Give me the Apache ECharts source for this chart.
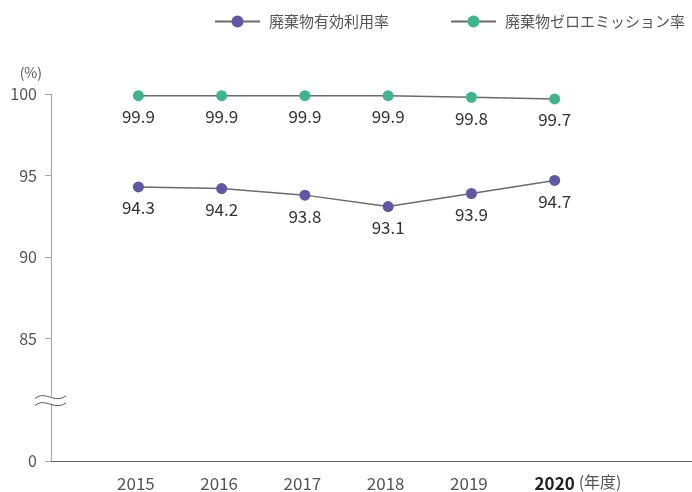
<!DOCTYPE html>
<html>
<head>
<meta charset="utf-8">
<script src="https://cdn.jsdelivr.net/npm/echarts@6/dist/echarts.min.js"></script>
<style>
  html, body { margin: 0; padding: 0; background: #fff; }
  #chart { width: 692px; height: 492px; }
</style>
</head>
<body>
<div id="chart"></div>
<script>
// data
const years = [2015, 2016, 2017, 2018, 2019, 2020];
const recycleRate = [94.3, 94.2, 93.8, 93.1, 93.9, 94.7];
const zeroEmission = [99.9, 99.9, 99.9, 99.9, 99.8, 99.7];
const yTicks = [77.5, 85, 90, 95, 100]; // 77.5 is drawn as "0" (broken axis)
const seriesNames = ['廃棄物有効利用率', '廃棄物ゼロエミッション率'];

const FONT = '"Noto Sans CJK JP", "Noto Sans", sans-serif';

const chart = echarts.init(document.getElementById('chart'));

const mkSeries = (name, vals, color) => ({
  name,
  type: 'line',
  data: years.map((y, i) => [y, vals[i]]),
  symbol: 'circle',
  symbolSize: 11,
  itemStyle: { color },
  lineStyle: { color: '#6b6b6b', width: 1.5 },
  label: {
    show: true,
    position: 'bottom',
    distance: 7,
    fontFamily: FONT,
    fontSize: 17,
    color: '#333',
    formatter: (p) => p.value[1].toFixed(1),
  },
  emphasis: { disabled: true },
});

const option = {
  animation: false,
  textStyle: { fontFamily: FONT },
  legend: {
    left: 209,
    top: 9,
    itemWidth: 45,
    itemHeight: 15,
    itemGap: 61,
    textStyle: { fontSize: 15, color: '#555', padding: [0, 0, 0, 4] },
    data: seriesNames,
  },
  grid: { left: 51, right: 0, top: 94, bottom: 31 },
  xAxis: {
    type: 'value',
    min: 2013.95,
    max: 2021.65,
    splitLine: { show: false },
    axisTick: { show: false },
    axisLine: { lineStyle: { color: '#666', width: 1.2 } },
    axisLabel: {
      customValues: years,
      margin: 14,
      fontSize: 17,
      color: '#555',
      padding: [0, 5, 0, 0],
      formatter: (v) => (v === 2020 ? '{b|2020}' : String(v)),
      rich: { b: { fontSize: 17, fontWeight: 'bold', color: '#222', fontFamily: FONT, padding: [0, 0, 0, 5] } },
    },
  },
  yAxis: {
    type: 'value',
    min: 77.5,
    max: 100,
    name: '(%)',
    nameLocation: 'end',
    nameGap: 14,
    nameTextStyle: { fontSize: 14, color: '#555', align: 'right', padding: [0, 9, 0, 0] },
    splitLine: { show: false },
    axisLine: { show: true, lineStyle: { color: '#aaa', width: 1.2 } },
    axisTick: { show: true, length: 6, customValues: yTicks, lineStyle: { color: '#aaa' } },
    axisLabel: {
      customValues: yTicks,
      margin: 14,
      fontSize: 16,
      color: '#555',
      formatter: (v) => (v === 77.5 ? '0' : String(v)),
    },
  },
  series: [
    mkSeries(seriesNames[0], recycleRate, '#5f58a6'),
    mkSeries(seriesNames[1], zeroEmission, '#3db68a'),
  ],
};

chart.setOption(option);

// axis break mark and unit label
const ax = chart.convertToPixel({ gridIndex: 0 }, [2013.95, 81.2]);
const p2020 = chart.convertToPixel({ gridIndex: 0 }, [2020, 77.5]);
const wave = (dy) => ({
  type: 'bezierCurve',
  x: ax[0] - 16,
  y: ax[1] + dy,
  shape: { x1: 0, y1: 3, cpx1: 10, cpy1: -6, cpx2: 20, cpy2: 9, x2: 31, y2: 0 },
  style: { fill: null, stroke: '#555', lineWidth: 1 },
  z: 100,
});
chart.setOption({
  graphic: [
    {
      type: 'rect',
      shape: { x: ax[0] - 2, y: ax[1] - 4, width: 4, height: 7 },
      style: { fill: '#fff' },
      z: 99,
    },
    wave(-5),
    wave(2),
    {
      type: 'text',
      x: p2020[0] + 24,
      y: p2020[1] + 21,
      style: { text: '(年度)', font: '16px ' + FONT, fill: '#555', verticalAlign: 'middle' },
    },
  ],
});
</script>
</body>
</html>
